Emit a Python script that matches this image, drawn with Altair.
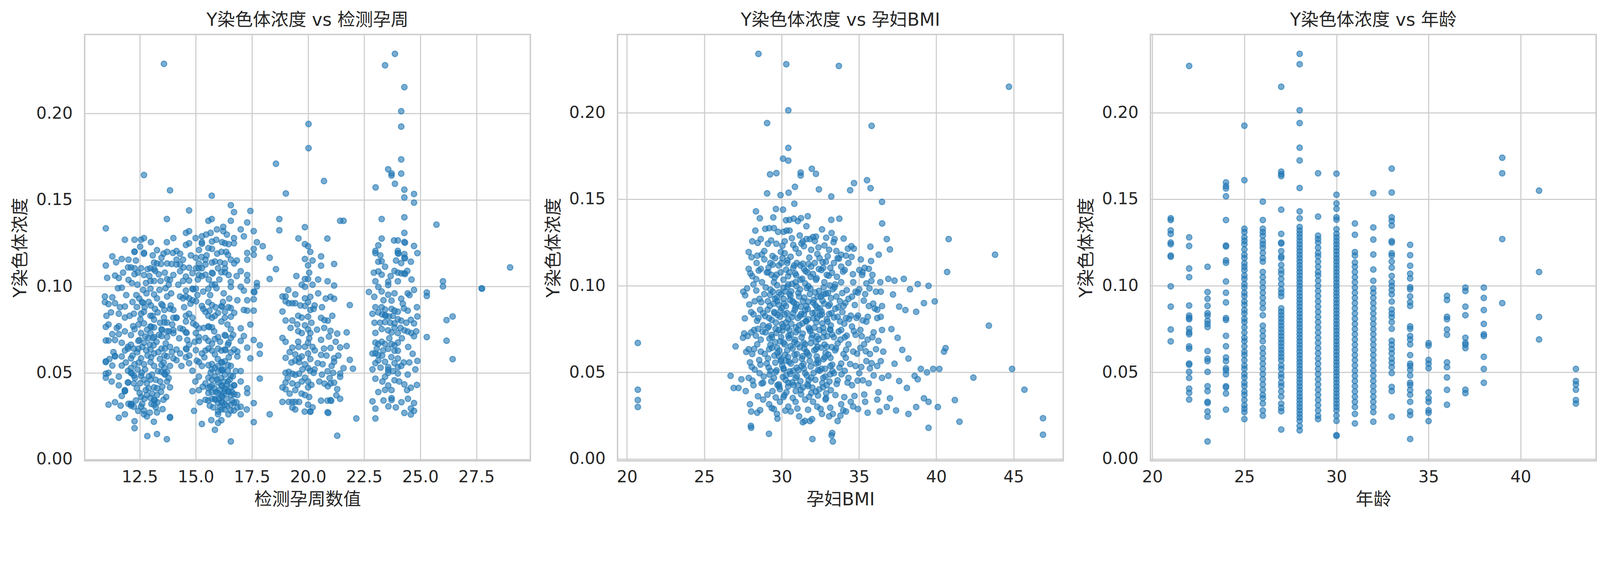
import altair as alt
import pandas as pd

FONT = "DejaVu Sans, Noto Sans CJK SC, sans-serif"
BLUE = "#1f77b4"
TEXT = "#262626"
GRID = "#cccccc"

Y_TITLE = "Y染色体浓度"
TITLES = ["Y染色体浓度 vs 检测孕周", "Y染色体浓度 vs 孕妇BMI", "Y染色体浓度 vs 年龄"]
X_TITLES = ["检测孕周数值", "孕妇BMI", "年龄"]

Y_TICKS = [0.0, 0.05, 0.10, 0.15, 0.20]
WEEK_TICKS = [12.5, 15.0, 17.5, 20.0, 22.5, 25.0, 27.5]
BMI_TICKS = [20, 25, 30, 35, 40, 45]
AGE_TICKS = [20, 25, 30, 35, 40]

# (检测孕周, Y染色体浓度)
WEEK_POINTS = [
    (10.99, 0.1336), (10.99, 0.1121), (11.28, 0.1174), (11.70, 0.1159), (12.00, 0.1155), (11.84, 0.1270),
    (12.27, 0.1270), (11.40, 0.1063), (11.57, 0.1049), (12.00, 0.1038), (12.27, 0.1071), (12.27, 0.1105),
    (11.98, 0.1110), (12.11, 0.1110), (12.27, 0.1202), (11.53, 0.0990), (11.70, 0.0993), (10.95, 0.0942),
    (11.28, 0.0937), (10.95, 0.0909), (11.11, 0.0898), (11.40, 0.0903), (11.84, 0.0884), (11.57, 0.0842),
    (11.84, 0.0820), (10.99, 0.0766), (11.11, 0.0780), (11.57, 0.0770), (11.28, 0.0724), (11.57, 0.0724),
    (11.84, 0.0740), (10.99, 0.0687), (11.11, 0.0687), (11.40, 0.0690), (11.70, 0.0674), (11.84, 0.0629),
    (11.98, 0.0651), (11.40, 0.0595), (11.40, 0.0598), (11.70, 0.0595), (10.99, 0.0567), (10.99, 0.0562),
    (11.28, 0.0542), (11.70, 0.0542), (10.99, 0.0495), (11.11, 0.0500), (10.99, 0.0472), (11.57, 0.0478),
    (11.57, 0.0428), (11.84, 0.0394), (11.98, 0.0444), (11.70, 0.0366), (12.00, 0.0321), (12.11, 0.0310),
    (11.57, 0.0240), (11.84, 0.0260), (11.11, 0.0316), (11.40, 0.0330), (12.27, 0.0180), (12.27, 0.0220),
    (11.84, 0.0395), (11.84, 0.0400),
    (11.05, 0.1050), (11.22, 0.0850), (11.48, 0.0760), (11.33, 0.0620), (11.62, 0.0880), (11.15, 0.0580),
    (11.76, 0.1080), (11.90, 0.0950), (11.25, 0.0450), (11.65, 0.0310), (12.05, 0.0830), (11.45, 0.1140),
    (11.02, 0.0830), (11.88, 0.0560), (12.18, 0.0910),
    (12.56, 0.1270), (12.69, 0.1280), (13.00, 0.1256), (13.27, 0.1210), (13.56, 0.1190), (13.72, 0.1200),
    (13.47, 0.1166), (13.72, 0.1133), (13.14, 0.1138), (13.27, 0.1133), (12.98, 0.1105), (13.14, 0.1100),
    (12.56, 0.1105), (12.69, 0.1066), (12.85, 0.1100), (12.69, 0.1189), (12.69, 0.1195), (12.27, 0.1200),
    (12.98, 0.1032), (13.14, 0.1032), (13.43, 0.1032), (13.72, 0.1043), (13.85, 0.1038), (14.00, 0.1066),
    (13.71, 0.1256), (14.00, 0.1280), (13.71, 0.1390), (12.69, 0.1645), (13.85, 0.1556), (13.58, 0.2288),
    (12.60, 0.0910), (12.65, 0.0905), (12.90, 0.0910), (13.47, 0.0898), (13.52, 0.0890), (13.60, 0.0864),
    (13.85, 0.0870), (14.00, 0.0864), (13.14, 0.0954), (12.98, 0.0987), (13.27, 0.0931), (13.72, 0.0942),
    (12.37, 0.0881), (12.56, 0.0842), (12.69, 0.0853), (12.98, 0.0830), (13.14, 0.0808), (12.24, 0.0842),
    (13.60, 0.0791), (13.72, 0.0791), (14.00, 0.0819), (14.14, 0.0819), (12.69, 0.0786), (12.98, 0.0769),
    (13.02, 0.0765), (13.14, 0.0763), (13.47, 0.0752), (13.50, 0.0748), (13.72, 0.0741), (14.00, 0.0747),
    (12.27, 0.0752), (12.56, 0.0730), (12.11, 0.0719), (12.98, 0.0730), (13.14, 0.0707), (13.47, 0.0713),
    (13.72, 0.0707), (14.00, 0.0730), (12.44, 0.0685), (12.69, 0.0674), (12.95, 0.0663), (12.11, 0.0663),
    (11.98, 0.0640), (12.24, 0.0640), (12.44, 0.0640), (12.98, 0.0635), (13.14, 0.0612), (13.47, 0.0640),
    (13.60, 0.0601), (13.72, 0.0595), (14.00, 0.0584),
    (12.11, 0.0584), (12.27, 0.0550), (12.56, 0.0584), (12.69, 0.0550), (12.98, 0.0562), (13.14, 0.0540),
    (13.47, 0.0545), (13.60, 0.0528), (13.72, 0.0506), (12.11, 0.0528), (11.98, 0.0512), (12.11, 0.0500),
    (12.15, 0.0497), (12.24, 0.0484), (12.56, 0.0484), (12.69, 0.0461), (12.82, 0.0439), (12.98, 0.0461),
    (13.14, 0.0416), (13.27, 0.0411), (13.47, 0.0506), (13.60, 0.0495), (13.63, 0.0490), (13.72, 0.0450),
    (13.85, 0.0416), (12.24, 0.0439), (11.98, 0.0444), (12.37, 0.0411), (12.50, 0.0383), (12.56, 0.0360),
    (12.82, 0.0372), (12.98, 0.0355), (13.14, 0.0344), (13.17, 0.0340), (13.14, 0.0316), (13.27, 0.0372),
    (13.56, 0.0344), (12.11, 0.0321), (12.14, 0.0318), (12.24, 0.0304), (12.56, 0.0304), (12.69, 0.0282),
    (12.69, 0.0260), (12.82, 0.0248), (13.27, 0.0271), (13.71, 0.0116), (13.27, 0.0146), (12.84, 0.0134),
    (13.85, 0.0240), (13.85, 0.0245), (13.13, 0.0217),
    (12.40, 0.1010), (12.80, 0.0960), (13.35, 0.1070), (13.90, 0.0960), (12.45, 0.0780), (13.30, 0.0850),
    (13.85, 0.0650), (12.85, 0.0600), (13.40, 0.0580), (12.40, 0.0520), (13.05, 0.0490), (13.85, 0.0540),
    (12.90, 0.0410), (13.45, 0.0390), (12.35, 0.0950), (13.00, 0.0890), (13.65, 0.0990), (12.75, 0.0710),
    (13.25, 0.0680), (13.95, 0.0780),
    (12.33, 0.1150), (12.52, 0.1230), (12.78, 0.1020), (13.08, 0.1180), (13.38, 0.0980), (13.62, 0.1080),
    (13.92, 0.1130), (12.48, 0.0930), (12.72, 0.0880), (13.18, 0.0870), (13.58, 0.0820), (13.88, 0.0890),
    (12.38, 0.0620), (12.62, 0.0650), (12.88, 0.0700), (13.12, 0.0660), (13.36, 0.0720), (13.66, 0.0670),
    (13.94, 0.0620), (12.46, 0.0560), (12.74, 0.0520), (13.01, 0.0590), (13.31, 0.0510), (13.57, 0.0560),
    (13.79, 0.0470), (12.52, 0.0440), (12.77, 0.0400), (13.06, 0.0380), (13.41, 0.0450), (13.68, 0.0360),
    (12.33, 0.0340), (12.61, 0.0320), (13.22, 0.0300), (13.52, 0.0290), (12.95, 0.0270),
    (12.15, 0.1020), (12.42, 0.1080), (12.66, 0.0980), (12.93, 0.1060), (13.19, 0.1090), (13.45, 0.1130),
    (13.79, 0.1010), (12.21, 0.0770), (12.53, 0.0810), (12.83, 0.0750), (13.07, 0.0830), (13.41, 0.0790),
    (13.81, 0.0740), (12.18, 0.0600), (12.49, 0.0690), (12.79, 0.0630), (13.09, 0.0700), (13.33, 0.0620),
    (13.62, 0.0640), (12.29, 0.0470), (12.59, 0.0500), (12.91, 0.0480), (13.21, 0.0460), (13.51, 0.0420),
    (12.43, 0.0280), (12.71, 0.0350), (13.02, 0.0320), (13.29, 0.0330),
    (14.14, 0.1205), (14.30, 0.1189), (13.98, 0.1194), (14.14, 0.1155), (14.43, 0.1155), (14.14, 0.1127),
    (14.30, 0.1127), (14.30, 0.1088), (14.70, 0.1108), (14.85, 0.1077), (14.56, 0.1057), (14.43, 0.1032),
    (14.70, 0.1034), (15.00, 0.1166), (15.14, 0.1211), (15.27, 0.1256), (15.14, 0.1133), (15.01, 0.1105),
    (15.14, 0.1105), (15.27, 0.1105), (15.43, 0.1155), (15.43, 0.1127), (15.72, 0.1138), (15.72, 0.1079),
    (15.75, 0.1075), (15.85, 0.1144), (15.56, 0.1222), (15.72, 0.1217), (16.14, 0.1200), (16.43, 0.1183),
    (16.29, 0.1133), (16.56, 0.1155), (16.71, 0.1133), (16.30, 0.1105), (16.30, 0.1082), (16.46, 0.1066),
    (16.56, 0.1026), (16.56, 0.0998), (15.14, 0.1066), (15.27, 0.1060), (15.43, 0.1068), (15.72, 0.1010),
    (15.85, 0.1012), (15.56, 0.0987), (15.99, 0.1105), (16.14, 0.1082), (14.70, 0.1440), (14.56, 0.1310),
    (14.70, 0.1320), (14.99, 0.1280), (15.27, 0.1290), (15.46, 0.1300), (15.66, 0.1310), (15.71, 0.1525),
    (15.56, 0.1380), (15.71, 0.1390), (16.22, 0.1345), (16.22, 0.1320), (16.38, 0.1300), (15.94, 0.1330),
    (16.56, 0.1470), (16.70, 0.1430), (16.56, 0.1380), (16.70, 0.1280), (14.56, 0.1240), (14.70, 0.1250),
    (15.27, 0.1247), (15.72, 0.1260), (15.91, 0.1270), (16.17, 0.1256), (16.30, 0.1250), (16.46, 0.1245),
    (16.70, 0.1250),
    (14.56, 0.0976), (14.85, 0.0987), (14.88, 0.0983), (15.00, 0.0987), (14.30, 0.0942), (14.43, 0.0931),
    (14.56, 0.0942), (14.70, 0.0931), (14.85, 0.0920), (15.01, 0.0914), (15.27, 0.0887), (15.56, 0.0909),
    (15.72, 0.0892), (15.43, 0.0853), (15.56, 0.0830), (15.72, 0.0819), (15.85, 0.0830), (16.14, 0.0886),
    (16.17, 0.0882), (15.99, 0.0847), (16.30, 0.0853), (16.56, 0.0875), (16.56, 0.0825), (16.71, 0.0847),
    (14.56, 0.0830), (14.70, 0.0842), (14.85, 0.0819), (14.14, 0.0819), (14.56, 0.0797), (14.43, 0.0752),
    (14.56, 0.0735), (14.59, 0.0731), (14.30, 0.0758), (14.88, 0.0786), (15.01, 0.0775), (15.14, 0.0758),
    (15.56, 0.0769), (15.59, 0.0765), (15.72, 0.0763), (16.14, 0.0797), (16.29, 0.0819), (15.00, 0.0730),
    (15.14, 0.0707), (15.14, 0.0685), (15.43, 0.0702), (15.56, 0.0685), (15.72, 0.0668), (15.85, 0.0696),
    (15.99, 0.0707), (16.29, 0.0719), (16.32, 0.0715), (16.56, 0.0752), (16.56, 0.0702), (16.46, 0.0674),
    (14.14, 0.0635), (14.30, 0.0612), (14.56, 0.0640), (14.59, 0.0636), (14.70, 0.0663), (15.00, 0.0631),
    (15.27, 0.0612), (15.43, 0.0629), (15.56, 0.0640), (15.72, 0.0629), (15.85, 0.0607), (15.99, 0.0640),
    (16.14, 0.0629), (16.29, 0.0635), (16.32, 0.0631), (16.43, 0.0663), (16.56, 0.0618), (16.71, 0.0635),
    (14.14, 0.0573), (14.56, 0.0590), (14.70, 0.0556), (15.14, 0.0562), (15.27, 0.0540), (15.56, 0.0545),
    (14.85, 0.0512), (15.14, 0.0478), (15.72, 0.0551), (15.85, 0.0528), (15.99, 0.0540), (16.14, 0.0562),
    (16.17, 0.0558), (16.29, 0.0567), (16.43, 0.0545), (16.56, 0.0540), (15.56, 0.0472), (15.72, 0.0461),
    (15.85, 0.0478), (15.99, 0.0506), (16.14, 0.0517), (16.17, 0.0513), (16.29, 0.0489), (16.43, 0.0512),
    (16.56, 0.0484), (15.43, 0.0439), (15.56, 0.0411), (15.72, 0.0428), (15.99, 0.0444), (16.14, 0.0428),
    (16.17, 0.0424), (16.29, 0.0411), (16.43, 0.0450), (16.56, 0.0416), (16.70, 0.0428), (15.56, 0.0383),
    (15.72, 0.0388), (15.99, 0.0383), (16.14, 0.0366), (16.17, 0.0362), (16.29, 0.0394), (16.43, 0.0394),
    (16.46, 0.0390), (16.56, 0.0372), (16.70, 0.0377), (15.43, 0.0344), (15.72, 0.0349), (15.85, 0.0349),
    (15.88, 0.0345), (15.99, 0.0327), (16.14, 0.0332), (16.17, 0.0328), (16.29, 0.0316), (16.56, 0.0316),
    (16.70, 0.0327), (16.85, 0.0372), (16.85, 0.0299), (17.00, 0.0304), (15.99, 0.0276), (16.14, 0.0288),
    (16.29, 0.0288), (16.56, 0.0282), (16.70, 0.0282), (15.99, 0.0260), (16.14, 0.0226), (15.69, 0.0226),
    (16.56, 0.0103), (15.85, 0.0170), (15.99, 0.0210), (15.27, 0.0204), (14.85, 0.0394), (15.14, 0.0400),
    (14.22, 0.1010), (14.48, 0.0880), (14.76, 0.0900), (15.07, 0.0950), (15.33, 0.0970), (15.64, 0.0950),
    (15.92, 0.0990), (16.24, 0.0960), (16.49, 0.0930), (14.26, 0.0700), (14.62, 0.0690), (14.95, 0.0680),
    (15.36, 0.0760), (15.82, 0.0740), (16.08, 0.0680), (16.41, 0.0780), (16.66, 0.0720), (14.36, 0.0540),
    (14.71, 0.0600), (15.04, 0.0570), (15.38, 0.0590), (15.66, 0.0500), (15.95, 0.0460), (16.24, 0.0450),
    (16.51, 0.0460), (16.78, 0.0510), (14.98, 0.0450), (15.31, 0.0420), (15.83, 0.0410), (16.05, 0.0400),
    (16.36, 0.0350), (16.62, 0.0340), (15.62, 0.0310), (16.08, 0.0300), (16.45, 0.0260), (16.81, 0.0330),
    (15.18, 0.0330), (14.92, 0.0280), (15.48, 0.1180), (15.95, 0.1190), (16.35, 0.1200), (16.83, 0.1150),
    (15.25, 0.1170), (16.05, 0.1040), (16.82, 0.1060),
    (15.55, 0.0340), (15.78, 0.0300), (16.03, 0.0350), (16.25, 0.0380), (16.39, 0.0310), (16.61, 0.0390),
    (15.64, 0.0420), (15.90, 0.0390), (16.12, 0.0470), (16.38, 0.0430), (16.65, 0.0480), (15.71, 0.0520),
    (15.98, 0.0580), (16.22, 0.0520), (16.47, 0.0590), (15.33, 0.0870), (15.61, 0.0860), (15.88, 0.0880),
    (16.21, 0.0910), (16.45, 0.0880), (14.45, 0.1110), (14.78, 0.1180), (15.09, 0.1040), (15.58, 0.1040),
    (16.08, 0.1140),
    (17.00, 0.1330), (17.14, 0.1290), (17.58, 0.1320), (17.29, 0.1370), (17.43, 0.1437), (17.72, 0.1256),
    (17.98, 0.1233), (17.58, 0.1217), (17.29, 0.1194), (17.29, 0.1155), (17.58, 0.1183), (18.29, 0.1166),
    (17.85, 0.0467), (17.00, 0.0510), (17.85, 0.0610), (17.85, 0.0660), (17.43, 0.0584), (17.43, 0.0780),
    (17.58, 0.0690), (17.29, 0.0860), (17.58, 0.0860), (17.14, 0.0864), (17.29, 0.0920), (17.58, 0.0926),
    (17.58, 0.0970), (17.61, 0.0966), (17.72, 0.1020), (17.72, 0.1000), (17.29, 0.1066), (17.29, 0.1034),
    (17.00, 0.1088), (17.00, 0.0998), (17.14, 0.0976), (16.85, 0.0920), (17.00, 0.0758), (17.14, 0.0713),
    (17.00, 0.0685), (16.85, 0.0623), (16.85, 0.0595), (17.29, 0.0646), (17.00, 0.0450), (17.29, 0.0410),
    (17.29, 0.0383), (16.71, 0.0428), (17.00, 0.0260), (17.27, 0.0288), (17.58, 0.0215), (17.58, 0.0325),
    (18.29, 0.0260), (18.57, 0.1100), (18.29, 0.1043), (18.72, 0.1390), (18.72, 0.1325), (18.57, 0.1710),
    (19.01, 0.1538), (19.86, 0.1343), (19.57, 0.1278),
    (18.86, 0.0942), (19.00, 0.0914), (19.00, 0.0942), (19.14, 0.0903), (19.43, 0.0954), (19.43, 0.0903),
    (19.30, 0.0903), (18.86, 0.0855), (19.00, 0.0803), (19.30, 0.0803), (19.56, 0.0830), (19.72, 0.0820),
    (18.86, 0.0702), (19.00, 0.0680), (19.56, 0.0741), (19.72, 0.0730), (19.56, 0.0680), (19.30, 0.0646),
    (19.00, 0.0587), (19.43, 0.0607), (19.60, 0.0584), (19.72, 0.0595), (19.43, 0.0570), (19.60, 0.0562),
    (19.00, 0.0500), (19.14, 0.0506), (19.30, 0.0495), (19.43, 0.0489), (19.60, 0.0495), (19.00, 0.0444),
    (19.30, 0.0439), (19.72, 0.0450), (18.86, 0.0416), (19.00, 0.0405), (19.43, 0.0400), (18.86, 0.0332),
    (19.14, 0.0332), (19.30, 0.0332), (19.43, 0.0332), (19.60, 0.0332), (19.30, 0.0299), (19.43, 0.0288),
    (19.85, 0.0276), (19.86, 0.1245), (20.00, 0.1233), (19.86, 0.1159), (20.00, 0.1122), (19.86, 0.1043),
    (19.86, 0.0998), (20.00, 0.1043), (19.72, 0.1010), (19.86, 0.0931), (20.00, 0.0909), (19.86, 0.0887),
    (20.10, 0.0864), (20.00, 0.0825), (19.86, 0.0775), (20.00, 0.0752), (20.10, 0.0730), (20.00, 0.0674),
    (19.86, 0.0651), (20.00, 0.0612), (19.86, 0.0550), (20.00, 0.0528), (20.10, 0.0512), (19.86, 0.0472),
    (20.00, 0.0450), (20.00, 0.0416), (19.86, 0.0372), (20.00, 0.0316), (20.10, 0.0276), (20.10, 0.1200),
    (20.20, 0.1150), (20.05, 0.1080), (20.20, 0.1010), (20.10, 0.0940), (20.25, 0.0870), (20.15, 0.0790),
    (20.05, 0.0700), (20.20, 0.0650), (20.10, 0.0580), (20.25, 0.0500), (20.15, 0.0430), (20.05, 0.0360),
    (20.20, 0.0300), (20.30, 0.0630), (20.02, 0.1940), (20.02, 0.1800), (20.71, 0.1610),
    (19.12, 0.0980), (19.48, 0.1060), (19.66, 0.0890), (19.22, 0.0760), (19.52, 0.0780), (19.18, 0.0620),
    (19.58, 0.0650), (19.26, 0.0560), (19.75, 0.0520), (19.09, 0.0470), (19.53, 0.0430), (19.71, 0.0380),
    (19.18, 0.0380),
    (20.58, 0.1174), (20.58, 0.1120), (21.16, 0.1130), (20.87, 0.1030), (21.16, 0.1005), (21.00, 0.0940),
    (21.16, 0.0929), (21.86, 0.0892), (20.29, 0.0890), (20.58, 0.0818), (20.73, 0.0805), (20.88, 0.0802),
    (20.72, 0.0760), (21.00, 0.0743), (21.30, 0.0727), (21.72, 0.0734), (20.58, 0.0691), (21.00, 0.0644),
    (21.43, 0.0647), (21.72, 0.0655), (20.58, 0.0604), (21.16, 0.0585), (21.16, 0.0564), (21.86, 0.0575),
    (20.43, 0.0556), (20.29, 0.0520), (20.87, 0.0509), (21.43, 0.0496), (21.43, 0.0477), (21.58, 0.0527),
    (22.00, 0.0524), (20.73, 0.0438), (21.00, 0.0438), (21.16, 0.0443), (20.88, 0.0422), (21.30, 0.0406),
    (20.58, 0.0339), (20.87, 0.0339), (21.00, 0.0342), (21.03, 0.0338), (21.43, 0.0350), (20.87, 0.0272),
    (20.90, 0.0268), (20.10, 0.0275), (21.30, 0.0136), (22.15, 0.0236), (21.43, 0.1380), (21.58, 0.1380),
    (20.86, 0.1277), (20.45, 0.0960), (20.40, 0.0750), (20.50, 0.0450), (20.65, 0.0550), (20.45, 0.1040),
    (20.62, 0.0880), (20.79, 0.0930), (20.93, 0.0710), (21.08, 0.0830), (21.23, 0.0680), (20.71, 0.0640),
    (21.05, 0.0540), (20.82, 0.0600), (21.35, 0.0600), (20.62, 0.0490), (21.12, 0.0500), (20.96, 0.0470),
    (21.26, 0.0370),
    (23.87, 0.2346), (23.43, 0.2280), (24.29, 0.2153), (24.15, 0.2014), (24.15, 0.1925), (24.15, 0.1735),
    (23.57, 0.1678), (23.72, 0.1654), (23.72, 0.1642), (23.87, 0.1594), (24.15, 0.1653), (23.01, 0.1573),
    (24.29, 0.1560), (24.29, 0.1515), (24.72, 0.1535), (24.72, 0.1485), (24.29, 0.1400), (23.28, 0.1390),
    (25.72, 0.1358), (23.28, 0.1277), (23.13, 0.1238), (23.00, 0.1206), (23.00, 0.1193), (23.83, 0.1266),
    (24.00, 0.1266), (24.29, 0.1310), (24.29, 0.1257), (24.32, 0.1253), (24.72, 0.1234), (24.87, 0.1193),
    (24.00, 0.1206), (24.00, 0.1193), (24.03, 0.1190), (24.29, 0.1187), (24.29, 0.1166), (24.32, 0.1163),
    (24.58, 0.1143), (24.15, 0.1135), (23.13, 0.1143), (23.28, 0.1146), (23.43, 0.1114), (23.13, 0.1087),
    (23.28, 0.1068), (23.85, 0.1090), (24.00, 0.1080), (24.15, 0.1076), (24.29, 0.1076), (24.32, 0.1072),
    (24.00, 0.1030), (23.00, 0.1030), (23.57, 0.1027), (23.57, 0.1008), (23.13, 0.0997), (23.28, 0.0971),
    (24.72, 0.0980), (24.44, 0.0960), (23.85, 0.0960), (23.57, 0.0952), (23.72, 0.0918), (24.15, 0.0929),
    (22.71, 0.0968), (25.29, 0.0965), (25.29, 0.0945), (26.01, 0.1030), (26.01, 0.1000), (27.73, 0.0989),
    (27.75, 0.0987), (29.00, 0.1110), (23.00, 0.0880), (23.28, 0.0880), (23.43, 0.0866), (23.72, 0.0870),
    (23.85, 0.0860), (24.00, 0.0854), (24.27, 0.0873), (24.44, 0.0860), (22.87, 0.0842), (23.13, 0.0850),
    (23.30, 0.0838), (23.43, 0.0834), (23.46, 0.0830), (23.60, 0.0826), (24.00, 0.0810), (24.15, 0.0802),
    (24.58, 0.0807), (24.72, 0.0786), (24.87, 0.0826), (26.17, 0.0805), (26.44, 0.0826), (23.43, 0.0794),
    (23.85, 0.0786), (23.85, 0.0762), (23.00, 0.0731), (23.28, 0.0754), (23.56, 0.0746), (23.72, 0.0734),
    (24.00, 0.0730), (24.29, 0.0746), (24.44, 0.0739), (24.60, 0.0730), (24.72, 0.0712), (25.29, 0.0707),
    (26.17, 0.0686), (23.00, 0.0675), (23.13, 0.0667), (23.28, 0.0680), (23.43, 0.0667), (23.72, 0.0667),
    (23.85, 0.0659), (24.00, 0.0675), (22.87, 0.0612), (23.00, 0.0612), (23.13, 0.0604), (23.30, 0.0600),
    (23.57, 0.0639), (23.85, 0.0628), (24.00, 0.0628), (23.71, 0.0591), (23.85, 0.0556), (24.00, 0.0583),
    (23.00, 0.0556), (23.13, 0.0572), (23.43, 0.0564), (24.87, 0.0569), (26.44, 0.0579), (22.87, 0.0520),
    (23.57, 0.0533), (23.57, 0.0517), (23.57, 0.0500), (24.00, 0.0533), (24.15, 0.0540), (24.00, 0.0496),
    (24.44, 0.0490), (23.00, 0.0466), (23.43, 0.0477), (23.85, 0.0457), (23.57, 0.0427), (23.43, 0.0401),
    (23.13, 0.0389), (24.29, 0.0433), (24.58, 0.0414), (23.72, 0.0354), (23.72, 0.0343), (23.58, 0.0306),
    (22.87, 0.0335), (23.00, 0.0293), (23.00, 0.0236), (24.29, 0.0268), (24.58, 0.0259), (24.72, 0.0280),
    (24.72, 0.0325), (24.58, 0.0294),
    (22.93, 0.1080), (23.22, 0.1180), (23.68, 0.1060), (23.92, 0.1150), (24.42, 0.1090), (24.61, 0.1040),
    (22.95, 0.0940), (23.36, 0.0920), (23.78, 0.0830), (24.22, 0.0900), (24.52, 0.0950), (24.85, 0.0880),
    (22.96, 0.0790), (23.21, 0.0790), (23.66, 0.0790), (24.12, 0.0760), (24.38, 0.0790), (24.82, 0.0740),
    (23.06, 0.0640), (23.35, 0.0630), (23.62, 0.0700), (24.18, 0.0700), (24.46, 0.0650), (24.66, 0.0610),
    (23.23, 0.0530), (23.78, 0.0510), (24.26, 0.0560), (24.51, 0.0560), (24.78, 0.0520), (23.31, 0.0450),
    (23.72, 0.0400), (24.06, 0.0450), (24.41, 0.0400), (24.85, 0.0430), (23.36, 0.0340), (23.91, 0.0300),
    (24.16, 0.0330), (24.45, 0.0350),
]

# (孕妇BMI, Y染色体浓度)
BMI_POINTS = [
    (20.70, 0.0670), (20.70, 0.0400), (20.70, 0.0340), (20.70, 0.0300), (26.70, 0.0480), (26.90, 0.0410),
    (27.21, 0.0410), (27.40, 0.0460), (27.02, 0.0650), (27.50, 0.0700), (27.68, 0.0392),
    (28.50, 0.2340), (30.30, 0.2280), (33.70, 0.2270), (30.43, 0.2014), (29.06, 0.1940), (30.43, 0.1797),
    (30.09, 0.1734), (30.43, 0.1723), (29.25, 0.1644), (29.66, 0.1651), (31.23, 0.1654), (31.23, 0.1637),
    (31.95, 0.1676), (32.22, 0.1647), (29.06, 0.1534), (29.93, 0.1524), (30.45, 0.1538), (30.86, 0.1572),
    (32.41, 0.1557), (33.21, 0.1516), (30.82, 0.1474), (34.43, 0.1552), (34.68, 0.1593), (35.52, 0.1610),
    (35.75, 0.1564), (35.82, 0.1924), (36.49, 0.1485),
    (28.34, 0.1430), (28.59, 0.1390), (29.63, 0.1444), (30.09, 0.1440), (29.46, 0.1395), (30.28, 0.1379),
    (30.51, 0.1381), (30.78, 0.1388), (31.05, 0.1374), (31.25, 0.1391), (31.69, 0.1402), (31.60, 0.1344),
    (33.21, 0.1381), (33.73, 0.1388), (35.74, 0.1226), (36.28, 0.1180), (35.78, 0.1143),
    (28.30, 0.1319), (28.10, 0.1257), (27.87, 0.1195), (28.94, 0.1329), (29.19, 0.1333), (29.50, 0.1333),
    (29.77, 0.1312), (30.12, 0.1312), (30.32, 0.1319), (30.51, 0.1319), (31.17, 0.1291), (31.37, 0.1257),
    (31.60, 0.1270), (31.83, 0.1270), (32.03, 0.1282), (32.22, 0.1284), (32.61, 0.1326), (32.88, 0.1278),
    (33.23, 0.1305), (33.42, 0.1270), (34.01, 0.1273), (34.28, 0.1215), (34.51, 0.1229), (34.67, 0.1215),
    (28.65, 0.1270), (29.11, 0.1243), (29.66, 0.1243), (30.20, 0.1257), (30.75, 0.1236), (30.90, 0.1215),
    (31.44, 0.1229), (31.91, 0.1208), (32.38, 0.1222), (33.07, 0.1208), (33.54, 0.1201), (33.85, 0.1180),
    (34.16, 0.1174), (28.88, 0.1201), (28.42, 0.1174),
    (27.87, 0.1098), (28.10, 0.1056), (28.38, 0.1132), (28.65, 0.1098), (28.88, 0.1153), (29.04, 0.1077),
    (29.35, 0.1063), (29.27, 0.1132), (29.58, 0.1160), (29.81, 0.1118), (30.05, 0.1160), (30.20, 0.1188),
    (30.36, 0.1132), (30.51, 0.1077), (30.75, 0.1104), (30.98, 0.1132), (31.21, 0.1118), (31.44, 0.1098),
    (31.68, 0.1077), (31.91, 0.1111), (32.14, 0.1132), (32.45, 0.1160), (32.69, 0.1104), (32.92, 0.1063),
    (33.15, 0.1104), (33.38, 0.1132), (33.62, 0.1160), (33.85, 0.1111), (34.08, 0.1091), (34.32, 0.1132),
    (35.02, 0.1091), (35.21, 0.1063), (35.37, 0.1104), (35.64, 0.1098), (35.87, 0.1063), (36.38, 0.1021),
    (35.80, 0.1028), (28.18, 0.1008), (28.73, 0.1021), (29.50, 0.1021), (30.12, 0.1035), (30.43, 0.1008),
    (30.90, 0.1021), (31.21, 0.1035), (31.52, 0.1014), (32.22, 0.1035), (32.76, 0.1021), (33.46, 0.1008),
    (33.85, 0.1021), (34.63, 0.1021), (35.48, 0.1014), (36.10, 0.0966), (36.41, 0.0966),
    (27.52, 0.0966), (27.64, 0.0945), (28.26, 0.0911), (28.03, 0.0848), (28.57, 0.0925), (28.88, 0.0952),
    (29.11, 0.0911), (29.43, 0.0966), (29.58, 0.0925), (29.81, 0.0890), (29.97, 0.0952), (30.12, 0.0925),
    (30.28, 0.0883), (30.51, 0.0952), (30.71, 0.0911), (30.90, 0.0876), (31.13, 0.0938), (31.37, 0.0911),
    (31.60, 0.0883), (31.83, 0.0952), (32.07, 0.0918), (32.30, 0.0876), (32.53, 0.0938), (32.76, 0.0897),
    (33.00, 0.0959), (33.31, 0.0980), (33.54, 0.0938), (33.77, 0.0911), (34.00, 0.0883), (34.32, 0.0925),
    (34.55, 0.0938), (34.78, 0.0966), (35.02, 0.0980), (35.40, 0.0952), (35.64, 0.0883), (36.02, 0.0869),
    (36.18, 0.0862), (36.49, 0.0883), (28.18, 0.0835), (28.50, 0.0814), (28.80, 0.0842), (29.19, 0.0814),
    (29.54, 0.0842), (29.89, 0.0821), (30.20, 0.0835), (30.43, 0.0807), (30.75, 0.0842), (31.05, 0.0814),
    (31.44, 0.0835), (31.72, 0.0807), (31.99, 0.0842), (32.30, 0.0814), (32.61, 0.0835), (32.92, 0.0807),
    (33.23, 0.0842), (33.62, 0.0821), (33.93, 0.0848), (34.16, 0.0814), (34.47, 0.0828), (34.94, 0.0828),
    (35.25, 0.0800), (35.48, 0.0793), (36.18, 0.0814), (36.41, 0.0821),
    (27.80, 0.0710), (28.03, 0.0731), (28.22, 0.0745), (27.87, 0.0634), (28.10, 0.0606), (28.42, 0.0662),
    (28.65, 0.0689), (28.80, 0.0772), (28.96, 0.0731), (29.11, 0.0758), (29.35, 0.0717), (29.58, 0.0675),
    (29.81, 0.0745), (29.97, 0.0703), (30.20, 0.0662), (30.36, 0.0758), (30.59, 0.0717), (30.82, 0.0675),
    (31.05, 0.0745), (31.29, 0.0703), (31.52, 0.0662), (31.75, 0.0758), (31.99, 0.0717), (32.22, 0.0675),
    (32.45, 0.0745), (32.69, 0.0703), (32.92, 0.0648), (33.15, 0.0745), (33.38, 0.0703), (33.62, 0.0668),
    (33.85, 0.0745), (34.08, 0.0703), (34.32, 0.0662), (34.55, 0.0765), (34.78, 0.0717), (35.09, 0.0745),
    (35.33, 0.0662), (35.56, 0.0689), (35.87, 0.0703), (36.26, 0.0682), (36.49, 0.0745), (35.71, 0.0606),
    (36.10, 0.0634), (36.57, 0.0620), (28.65, 0.0620), (29.19, 0.0634), (29.73, 0.0613), (30.36, 0.0627),
    (30.98, 0.0606), (31.60, 0.0620), (32.22, 0.0634), (32.84, 0.0613), (33.46, 0.0627), (34.00, 0.0606),
    (34.63, 0.0620), (35.09, 0.0641),
    (27.95, 0.0558), (28.26, 0.0516), (27.87, 0.0468), (28.18, 0.0426), (28.57, 0.0495), (28.80, 0.0440),
    (29.04, 0.0551), (29.27, 0.0509), (29.50, 0.0468), (29.73, 0.0426), (29.97, 0.0565), (30.12, 0.0523),
    (30.28, 0.0482), (30.43, 0.0440), (30.59, 0.0551), (30.75, 0.0509), (30.90, 0.0468), (31.05, 0.0426),
    (31.29, 0.0537), (31.52, 0.0495), (31.75, 0.0454), (31.99, 0.0412), (32.22, 0.0551), (32.45, 0.0509),
    (32.69, 0.0468), (32.92, 0.0426), (33.15, 0.0537), (33.38, 0.0495), (33.62, 0.0454), (33.85, 0.0551),
    (34.08, 0.0509), (34.32, 0.0468), (34.55, 0.0426), (34.78, 0.0537), (35.02, 0.0495), (35.25, 0.0454),
    (35.48, 0.0565), (35.71, 0.0523), (35.95, 0.0482), (36.18, 0.0537), (36.41, 0.0565), (36.49, 0.0468),
    (36.26, 0.0385),
    (27.95, 0.0316), (28.03, 0.0274), (28.42, 0.0267), (28.03, 0.0180), (29.18, 0.0145), (28.80, 0.0343),
    (29.19, 0.0316), (29.50, 0.0288), (29.73, 0.0233), (29.89, 0.0330), (30.12, 0.0357), (30.43, 0.0302),
    (30.59, 0.0274), (30.90, 0.0330), (31.13, 0.0246), (31.37, 0.0212), (31.52, 0.0343), (31.83, 0.0219),
    (32.03, 0.0330), (32.30, 0.0302), (32.61, 0.0260), (32.84, 0.0343), (33.07, 0.0246), (33.31, 0.0260),
    (33.62, 0.0219), (33.85, 0.0316), (34.16, 0.0274), (34.47, 0.0330), (34.94, 0.0288), (35.40, 0.0330),
    (35.56, 0.0267), (36.18, 0.0343), (36.34, 0.0274), (31.99, 0.0115), (33.23, 0.0136), (33.31, 0.0101),
    (28.01, 0.0191), (29.70, 0.0260), (31.50, 0.0220), (31.97, 0.0230), (33.80, 0.0250), (33.27, 0.0150),
    (29.42, 0.1122), (29.93, 0.1078), (30.38, 0.1147), (30.94, 0.1061), (31.37, 0.1128), (31.88, 0.1052),
    (32.41, 0.1097), (32.86, 0.1139), (29.71, 0.1003), (30.23, 0.0968), (30.68, 0.1012), (31.19, 0.0979),
    (31.73, 0.0998), (32.17, 0.0962), (32.72, 0.0991), (33.12, 0.1002), (29.48, 0.0897), (30.02, 0.0872),
    (30.53, 0.0918), (30.97, 0.0893), (31.52, 0.0858), (32.04, 0.0903), (32.47, 0.0869), (33.03, 0.0884),
    (29.63, 0.0788), (30.09, 0.0763), (30.62, 0.0781), (31.14, 0.0772), (31.58, 0.0794), (32.12, 0.0758),
    (32.63, 0.0783), (33.18, 0.0771), (29.37, 0.0703), (29.91, 0.0679), (30.44, 0.0712), (30.87, 0.0688),
    (31.42, 0.0671), (31.93, 0.0698), (32.38, 0.0692), (32.94, 0.0709), (29.82, 0.0592), (30.27, 0.0568),
    (30.83, 0.0603), (31.31, 0.0579), (31.77, 0.0598), (32.33, 0.0571), (32.78, 0.0587), (29.62, 0.0502),
    (30.13, 0.0518), (30.57, 0.0491), (31.08, 0.0513), (31.63, 0.0482), (32.07, 0.0497), (32.58, 0.0521),
    (33.14, 0.0488), (29.88, 0.0403), (30.42, 0.0418), (30.91, 0.0392), (31.38, 0.0413), (31.92, 0.0381),
    (32.43, 0.0402), (32.88, 0.0379),
    (28.45, 0.1248), (29.32, 0.1262), (30.05, 0.1231), (30.66, 0.1275), (31.28, 0.1244), (32.15, 0.1259),
    (32.77, 0.1233), (33.36, 0.1252), (28.05, 0.1165), (28.72, 0.1181), (29.41, 0.1172), (29.95, 0.1196),
    (30.58, 0.1168), (31.11, 0.1189), (31.79, 0.1163), (32.31, 0.1184), (32.98, 0.1171), (33.71, 0.1157),
    (34.52, 0.1167), (35.12, 0.1152), (27.98, 0.1072), (28.52, 0.1088), (29.13, 0.1079), (29.67, 0.1064),
    (30.29, 0.1093), (30.88, 0.1071), (31.55, 0.1085), (32.03, 0.1068), (32.57, 0.1091), (33.26, 0.1075),
    (33.97, 0.1082), (34.61, 0.1067), (35.23, 0.1079), (27.76, 0.0985), (28.36, 0.0973), (28.97, 0.0991),
    (29.28, 0.0978), (29.83, 0.0962), (30.37, 0.0995), (30.62, 0.0968), (31.08, 0.0959), (31.63, 0.0987),
    (32.41, 0.0971), (32.86, 0.0955), (33.42, 0.0992), (34.21, 0.0975), (34.92, 0.0961), (35.68, 0.0985),
    (27.91, 0.0892), (28.68, 0.0905), (29.24, 0.0884), (29.71, 0.0912), (30.16, 0.0897), (30.79, 0.0903),
    (31.24, 0.0879), (31.71, 0.0908), (32.19, 0.0887), (32.64, 0.0914), (33.11, 0.0893), (33.47, 0.0868),
    (34.12, 0.0901), (34.73, 0.0889), (35.31, 0.0914), (35.92, 0.0897), (27.62, 0.0812), (28.41, 0.0798),
    (28.93, 0.0825), (29.36, 0.0803), (29.74, 0.0831), (30.28, 0.0788), (30.66, 0.0819), (31.19, 0.0826),
    (31.57, 0.0797), (32.06, 0.0812), (32.48, 0.0829), (32.97, 0.0793), (33.39, 0.0817), (33.78, 0.0794),
    (34.36, 0.0808), (34.84, 0.0815), (35.57, 0.0821), (27.58, 0.0725), (28.33, 0.0712), (28.77, 0.0735),
    (29.21, 0.0695), (29.66, 0.0728), (30.05, 0.0741), (30.47, 0.0698), (30.93, 0.0732), (31.36, 0.0724),
    (31.84, 0.0739), (32.28, 0.0708), (32.73, 0.0731), (33.27, 0.0719), (33.69, 0.0736), (34.21, 0.0712),
    (34.67, 0.0738), (35.18, 0.0709), (35.95, 0.0731), (27.71, 0.0618), (28.22, 0.0635), (28.91, 0.0607),
    (29.38, 0.0642), (29.85, 0.0625), (30.22, 0.0601), (30.71, 0.0638), (31.17, 0.0644), (31.66, 0.0611),
    (32.11, 0.0627), (32.56, 0.0643), (33.02, 0.0603), (33.51, 0.0639), (34.17, 0.0631), (34.88, 0.0608),
    (35.44, 0.0622), (28.06, 0.0532), (28.63, 0.0545), (29.16, 0.0528), (29.59, 0.0556), (30.04, 0.0539),
    (30.48, 0.0561), (30.97, 0.0527), (31.41, 0.0549), (31.88, 0.0534), (32.37, 0.0556), (32.81, 0.0521),
    (33.27, 0.0544), (33.74, 0.0528), (34.43, 0.0548), (35.15, 0.0531), (35.82, 0.0553), (28.12, 0.0452),
    (28.71, 0.0436), (29.33, 0.0447), (29.81, 0.0431), (30.26, 0.0456), (30.68, 0.0442), (31.21, 0.0449),
    (31.67, 0.0431), (32.18, 0.0457), (32.63, 0.0438), (33.09, 0.0447), (33.56, 0.0433), (34.26, 0.0441),
    (34.91, 0.0452), (35.63, 0.0437), (28.47, 0.0362), (29.08, 0.0371), (29.62, 0.0355), (30.17, 0.0368),
    (30.72, 0.0352), (31.26, 0.0373), (31.78, 0.0359), (32.35, 0.0366), (32.87, 0.0351), (33.48, 0.0369),
    (34.05, 0.0357), (34.71, 0.0364), (35.34, 0.0372), (28.61, 0.0282), (29.36, 0.0294), (30.24, 0.0279),
    (31.02, 0.0291), (31.71, 0.0284), (32.52, 0.0289), (33.14, 0.0296), (33.98, 0.0281), (34.62, 0.0303),
    (29.15, 0.1105), (29.55, 0.1048), (29.98, 0.1132), (30.42, 0.1056), (30.81, 0.1118), (31.33, 0.1041),
    (31.74, 0.1126), (32.26, 0.1044), (32.65, 0.1137), (33.04, 0.1058), (29.26, 0.0947), (29.69, 0.0933),
    (30.11, 0.0989), (30.57, 0.0941), (30.96, 0.0998), (31.46, 0.0932), (31.86, 0.0984), (32.33, 0.0937),
    (32.71, 0.0951), (33.19, 0.0929), (29.09, 0.0862), (29.52, 0.0849), (29.93, 0.0857), (30.34, 0.0843),
    (30.85, 0.0861), (31.27, 0.0838), (31.69, 0.0866), (32.16, 0.0846), (32.58, 0.0852), (33.07, 0.0837),
    (29.18, 0.0767), (29.61, 0.0752), (30.02, 0.0779), (30.51, 0.0744), (30.92, 0.0761), (31.35, 0.0783),
    (31.81, 0.0749), (32.24, 0.0789), (32.69, 0.0757), (33.13, 0.0748), (29.27, 0.0658), (29.71, 0.0643),
    (30.13, 0.0672), (30.58, 0.0651), (31.01, 0.0664), (31.46, 0.0637), (31.88, 0.0669), (32.32, 0.0648),
    (32.77, 0.0661), (33.24, 0.0646), (29.12, 0.0581), (29.53, 0.0597), (29.96, 0.0574), (30.41, 0.0589),
    (30.88, 0.0571), (31.36, 0.0593), (31.82, 0.0566), (32.27, 0.0592), (32.71, 0.0576), (33.16, 0.0584),
    (29.22, 0.0487), (29.67, 0.0512), (30.08, 0.0473), (30.52, 0.0506), (30.99, 0.0478), (31.44, 0.0521),
    (31.91, 0.0469), (32.36, 0.0514), (32.82, 0.0476), (33.29, 0.0507), (29.41, 0.0392), (29.84, 0.0418),
    (30.31, 0.0385), (30.78, 0.0427), (31.24, 0.0398), (31.72, 0.0421), (32.21, 0.0389), (32.68, 0.0414),
    (33.18, 0.0397), (28.36, 0.1038), (28.61, 0.0862), (28.47, 0.0751), (28.55, 0.0571), (28.84, 0.0476),
    (33.58, 0.1052), (33.92, 0.0958), (33.66, 0.0876), (34.05, 0.0781), (33.81, 0.0689), (34.15, 0.0584),
    (33.87, 0.0489),
    (36.80, 0.1270), (37.00, 0.1210), (36.90, 0.1040), (37.30, 0.1030), (37.90, 0.1040), (37.20, 0.0950),
    (38.30, 0.0980), (37.60, 0.0880), (38.00, 0.0860), (38.70, 0.0850), (38.80, 0.1010), (39.50, 0.1000),
    (39.20, 0.0900), (39.90, 0.0910), (37.10, 0.0750), (37.50, 0.0700), (37.80, 0.0630), (38.20, 0.0580),
    (37.30, 0.0550), (36.90, 0.0480), (37.60, 0.0450), (38.10, 0.0410), (38.60, 0.0480), (39.00, 0.0520),
    (39.80, 0.0520), (40.20, 0.0520), (39.40, 0.0500), (38.80, 0.0460), (39.20, 0.0350), (39.50, 0.0330),
    (40.10, 0.0300), (39.50, 0.0180), (40.50, 0.0620), (40.60, 0.0640), (41.20, 0.0340), (41.50, 0.0215),
    (40.70, 0.1080), (40.80, 0.1270), (42.40, 0.0470), (43.40, 0.0770), (43.80, 0.1180), (44.70, 0.2150),
    (44.90, 0.0520), (45.70, 0.0400), (46.90, 0.0235), (46.90, 0.0140), (38.20, 0.0260), (38.70, 0.0300),
    (37.00, 0.0350), (36.80, 0.0300), (37.40, 0.0280), (36.50, 0.1360),
]

# 年龄 -> Y染色体浓度
AGE_COLUMNS = {
    21: [0.139, 0.138, 0.132, 0.130, 0.125, 0.124, 0.1175, 0.1168, 0.0997, 0.088, 0.0748, 0.0679],
    22: [0.227, 0.128, 0.123, 0.110, 0.105, 0.0886, 0.0828, 0.0815, 0.0807, 0.0752, 0.0731, 0.072, 0.065,
         0.0637, 0.0551, 0.0544, 0.0503, 0.0468, 0.0406, 0.0382, 0.0343],
    23: [0.111, 0.0964, 0.0925, 0.0884, 0.0842, 0.0828, 0.0798, 0.078, 0.0762, 0.0623, 0.0579, 0.0565,
         0.0503, 0.042, 0.0392, 0.033, 0.0323, 0.0274, 0.0244, 0.0101],
    24: [0.1597, 0.1576, 0.1562, 0.1517, 0.138, 0.1233, 0.1227, 0.1147, 0.1133, 0.1025, 0.096, 0.0904,
         0.0814, 0.0803, 0.0711, 0.0651, 0.0586, 0.0565, 0.0524, 0.0512, 0.0489, 0.042, 0.0413, 0.0378,
         0.0285],
    25: [0.1925, 0.161, 0.133, 0.131, 0.128, 0.126, 0.124, 0.121, 0.118, 0.116, 0.113, 0.111, 0.109, 0.106,
         0.104, 0.101, 0.099, 0.096, 0.094, 0.091, 0.089, 0.086, 0.084, 0.081, 0.079, 0.076, 0.073, 0.070,
         0.068, 0.065, 0.062, 0.060, 0.057, 0.054, 0.052, 0.049, 0.047, 0.044, 0.042, 0.039, 0.037, 0.034,
         0.031, 0.029, 0.027, 0.023],
    26: [0.1486, 0.138, 0.133, 0.131, 0.129, 0.126, 0.124, 0.122, 0.119, 0.116, 0.114, 0.108, 0.105, 0.102,
         0.099, 0.096, 0.093, 0.090, 0.087, 0.083, 0.077, 0.074, 0.071, 0.068, 0.064, 0.061, 0.058, 0.055,
         0.052, 0.049, 0.046, 0.043, 0.040, 0.037, 0.035, 0.032, 0.028, 0.025],
    27: [0.215, 0.166, 0.1645, 0.1634, 0.144, 0.130, 0.125, 0.1244, 0.120, 0.117, 0.116, 0.112, 0.109, 0.107,
         0.104, 0.101, 0.098, 0.096, 0.094, 0.087, 0.085, 0.083, 0.081, 0.079, 0.077, 0.075, 0.073, 0.071,
         0.069, 0.067, 0.065, 0.063, 0.061, 0.059, 0.057, 0.054, 0.052, 0.049, 0.047, 0.044, 0.042, 0.039,
         0.036, 0.032, 0.0295, 0.0275, 0.017],
    28: [0.234, 0.228, 0.2014, 0.194, 0.1798, 0.1724, 0.1565, 0.143, 0.139, 0.134, 0.132, 0.130, 0.128,
         0.126, 0.124, 0.122, 0.120, 0.118, 0.116, 0.114, 0.112, 0.110, 0.108, 0.106, 0.104, 0.102, 0.100,
         0.098, 0.096, 0.094, 0.092, 0.090, 0.088, 0.086, 0.084, 0.082, 0.080, 0.078, 0.076, 0.074, 0.072,
         0.070, 0.068, 0.066, 0.064, 0.062, 0.060, 0.058, 0.056, 0.054, 0.052, 0.050, 0.048, 0.046, 0.044,
         0.042, 0.040, 0.038, 0.036, 0.034, 0.032, 0.030, 0.028, 0.026, 0.024, 0.022, 0.019, 0.0165],
    29: [0.165, 0.140, 0.129, 0.127, 0.125, 0.122, 0.119, 0.117, 0.114, 0.111, 0.108, 0.106, 0.103, 0.100,
         0.097, 0.094, 0.091, 0.088, 0.085, 0.082, 0.079, 0.076, 0.073, 0.070, 0.067, 0.064, 0.061, 0.058,
         0.055, 0.052, 0.049, 0.046, 0.043, 0.040, 0.037, 0.034, 0.031, 0.028, 0.025, 0.023],
    30: [0.1648, 0.1526, 0.1476, 0.1445, 0.1396, 0.1382, 0.1327, 0.130, 0.128, 0.126, 0.124, 0.122, 0.120,
         0.118, 0.116, 0.114, 0.112, 0.110, 0.108, 0.106, 0.104, 0.102, 0.100, 0.098, 0.096, 0.094, 0.092,
         0.090, 0.088, 0.086, 0.084, 0.082, 0.080, 0.078, 0.076, 0.074, 0.072, 0.070, 0.068, 0.066, 0.064,
         0.062, 0.060, 0.058, 0.056, 0.054, 0.052, 0.050, 0.048, 0.046, 0.044, 0.042, 0.040, 0.038, 0.036,
         0.034, 0.032, 0.030, 0.028, 0.025, 0.022, 0.0137, 0.0133],
    31: [0.136, 0.1295, 0.1195, 0.1175, 0.1135, 0.111, 0.108, 0.105, 0.102, 0.099, 0.096, 0.093, 0.090,
         0.087, 0.084, 0.081, 0.078, 0.075, 0.072, 0.069, 0.066, 0.063, 0.060, 0.057, 0.054, 0.051, 0.048,
         0.045, 0.042, 0.039, 0.036, 0.033, 0.030, 0.026, 0.0205],
    32: [0.1535, 0.1337, 0.1267, 0.1181, 0.1094, 0.1029, 0.0985, 0.096, 0.093, 0.090, 0.087, 0.084, 0.081,
         0.078, 0.075, 0.072, 0.069, 0.066, 0.063, 0.060, 0.057, 0.054, 0.051, 0.048, 0.045, 0.042, 0.039,
         0.036, 0.033, 0.030, 0.027, 0.0215],
    33: [0.1677, 0.1539, 0.1396, 0.1375, 0.1348, 0.1258, 0.125, 0.1188, 0.1175, 0.114, 0.1105, 0.1057,
         0.1022, 0.100, 0.0975, 0.095, 0.0909, 0.0863, 0.084, 0.082, 0.079, 0.0752, 0.0683, 0.066, 0.0635,
         0.061, 0.058, 0.0556, 0.053, 0.0496, 0.0416, 0.0392, 0.0244],
    34: [0.1237, 0.1177, 0.1116, 0.107, 0.1043, 0.0992, 0.098, 0.0939, 0.0905, 0.0884, 0.0766, 0.0752,
         0.071, 0.069, 0.0662, 0.060, 0.055, 0.0537, 0.0515, 0.0482, 0.044, 0.0427, 0.0398, 0.0371, 0.033,
         0.0274, 0.0253, 0.0115],
    35: [0.0669, 0.0655, 0.0572, 0.055, 0.0524, 0.0385, 0.035, 0.033, 0.0281, 0.0267, 0.0219],
    36: [0.0942, 0.0918, 0.0821, 0.0807, 0.0748, 0.0717, 0.0558, 0.053, 0.0471, 0.0399, 0.0313],
    37: [0.099, 0.097, 0.088, 0.083, 0.070, 0.067, 0.066, 0.064, 0.040, 0.038],
    38: [0.099, 0.093, 0.086, 0.078, 0.072, 0.071, 0.059, 0.052, 0.044],
    39: [0.174, 0.165, 0.127, 0.090],
    41: [0.155, 0.108, 0.082, 0.069],
    43: [0.052, 0.045, 0.043, 0.040, 0.034, 0.032],
}


def padded(values):
    lo, hi = min(values), max(values)
    pad = (hi - lo) * 0.05
    return [lo - pad, hi + pad]


def panel(df, title, x_title, x_ticks, x_format):
    return alt.Chart(df).mark_circle(
        size=255, color=BLUE, fillOpacity=0.6,
        stroke=BLUE, strokeOpacity=0.6, strokeWidth=3,
    ).encode(
        x=alt.X("x:Q", title=x_title,
                scale=alt.Scale(domain=padded(df["x"]), nice=False, zero=False),
                axis=alt.Axis(values=x_ticks, format=x_format)),
        y=alt.Y("y:Q", title=Y_TITLE,
                scale=alt.Scale(domain=padded(df["y"]), nice=False, zero=False),
                axis=alt.Axis(values=Y_TICKS, format=".2f")),
    ).properties(width=1252, height=1198, title=title)


week_df = pd.DataFrame(WEEK_POINTS, columns=["x", "y"])
bmi_df = pd.DataFrame(BMI_POINTS, columns=["x", "y"])
age_df = pd.DataFrame(
    [(age, y) for age, ys in AGE_COLUMNS.items() for y in ys], columns=["x", "y"]
)

chart = alt.hconcat(
    panel(week_df, TITLES[0], X_TITLES[0], WEEK_TICKS, ".1f"),
    panel(bmi_df, TITLES[1], X_TITLES[1], BMI_TICKS, "d"),
    panel(age_df, TITLES[2], X_TITLES[2], AGE_TICKS, "d"),
    spacing=36,
).properties(
    padding={"left": 22, "top": -44, "right": 0, "bottom": 0},
    background="white",
).configure_view(
    stroke=GRID, strokeWidth=4,
).configure_axis(
    labelFont=FONT, titleFont=FONT, labelFontSize=46, titleFontSize=50,
    labelColor=TEXT, titleColor=TEXT, titleFontWeight="normal",
    grid=True, gridColor=GRID, gridWidth=3, domain=False, ticks=False, tickSize=0,
    labelPadding=34,
).configure_axisX(
    labelPadding=24, titlePadding=16,
).configure_axisY(
    titlePadding=18,
).configure_title(
    font=FONT, fontSize=50, fontWeight="normal", color=TEXT, offset=14, anchor="middle",
)

chart.save("out.html", embed_options={"renderer": "svg", "actions": False})
